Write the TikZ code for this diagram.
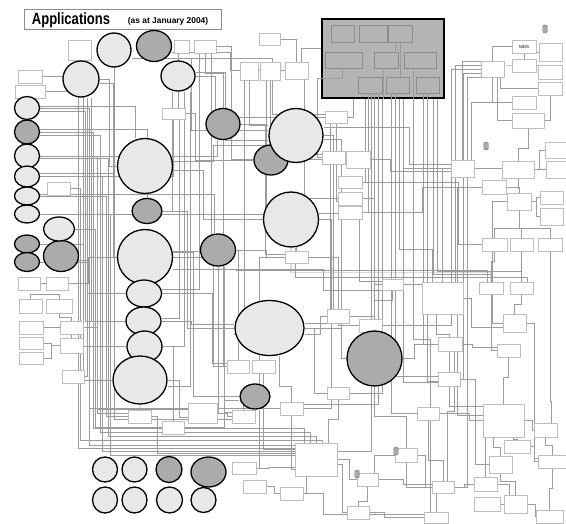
\documentclass[tikz,border=0pt]{standalone}
\usepackage{fontspec}
\setmainfont{Liberation Sans}
\usetikzlibrary{shapes.geometric,backgrounds}
\definecolor{applite}{HTML}{E8E8E8}
\definecolor{appdark}{HTML}{ABABAB}
\definecolor{coregray}{HTML}{B4B4B4}
\definecolor{boxline}{HTML}{BEBEBE}
\definecolor{wiregray}{HTML}{9C9C9C}

\begin{document}
\begin{tikzpicture}[x=1pt,y=-1pt,
  lite/.style={ellipse,draw=black,line width=1.3pt,fill=applite,inner sep=0pt},
  dark/.style={lite,fill=appdark},
  sys/.style={rectangle,draw=boxline,line width=0.6pt,fill=white,inner sep=0pt},
  cell/.style={rectangle,draw=black!45,line width=0.5pt,fill=coregray,inner sep=0pt},
  pill/.style={rectangle,rounded corners=1.5pt,draw=black!55,fill=appdark,
               minimum width=4.5pt,minimum height=8pt,inner sep=0pt},
  wire/.style={draw=wiregray,line width=0.45pt},
  haze/.style={draw=black!15,line width=1.6pt}
]
\useasboundingbox (0,0) rectangle (566,524);

% title
\node[draw=black!45,line width=0.6pt,minimum width=197pt,minimum height=20pt,inner sep=0pt] (ttl) at (122.5,19) {};
\node[anchor=base west,font=\fontsize{16.3}{16}\selectfont\bfseries,inner sep=0pt] (ttlmain) at ([xshift=8pt,yshift=-6pt]ttl.west) {\scalebox{0.8}[1]{Applications}};
\node[anchor=base west,font=\fontsize{8.4}{9}\selectfont\bfseries,inner sep=0pt] (ttlsub) at ([xshift=104pt,yshift=-4.5pt]ttl.west) {(as at January 2004)};

% systems (boxes)
\foreach \n/\x/\y/\w/\h in {
  b1/79.5/50/23/20, b2/181.5/46.5/15/13, b3/205/46.5/22/13, b4/269.5/39/21/12,
  b5/249/71/18/18, b6/270/71/20/18, b7/30/76.5/24/13, b8/30/91.5/30/13,
  b9/296.5/70.5/23/17, b10/550.5/52/23/18, b12/524/65.5/24/13, b13/550/72/24/14,
  b14/492.5/69/23/16, b15/550/88.5/24/13, b16/524/102.5/24/13, b17/528/120.5/32/15,
  b18/555.5/150/21/16, b19/556/169.5/20/17, b20/462.5/168.5/23/17, b21/518/169.5/32/17,
  b22/494/187/24/14, b23/519/201.5/24/17, b24/551.5/197.5/23/13, b25/551.5/216.5/23/17,
  b26/494.5/244.5/25/13, b27/521.5/244.5/23/13, b28/550/244.5/24/13, b29/336/117/22/12,
  b30/333.5/157.5/23/13, b31/358/159.5/24/17, b32/350/182/24/12, b33/350/198.5/24/13,
  b34/350/212.5/24/13, b35/296.5/257/23/12, b36/392.5/284.5/21/11, b37/442.5/298/41/32,
  b38/491/288/24/12, b39/521.5/288/23/12, b40/338/316/22/14, b41/370.5/325.5/23/13,
  b42/450/344/24/14, b43/514.5/323/23/18, b44/508.5/350.5/23/13, b45/449/379/22/14,
  b46/338/393/22/12, b47/291.5/408.5/23/13, b48/428/413.5/22/13, b49/503.5/420.5/41/33,
  b50/545.5/430/23/14, b51/517/446.5/26/13, b52/552/461.5/28/13, b53/500.5/464.5/23/17,
  b54/316/459.5/42/33, b55/406/455/22/14, b56/367.5/479.5/21/13, b57/291.5/493.5/23/13,
  b58/443/487/22/12, b59/485.5/484/23/14, b60/487/504/26/14, b61/515.5/504/23/18,
  b62/358/512.5/22/13, b63/436/517.5/24/11, b64/549.5/516.5/27/13, b65/29/283.5/22/13,
  b66/57/283.5/22/13, b67/30.5/306/23/14, b68/59/306/26/14, b69/31/327.5/24/13,
  b70/71.5/327.5/23/13, b71/31/343/24/12, b72/71.5/345.5/23/15, b73/31/358/24/12,
  b74/73/376.5/22/13, b75/139.5/416.5/23/13, b76/173/427.5/22/13, b77/202.5/413/29/20,
  b78/238/366.5/22/13, b79/263.5/366.5/23/13, b80/243.5/416.5/23/13, b81/244/468/24/12,
  b82/254.5/486.5/23/13, b83/173.5/113.5/23/11, b84/58.5/188.5/23/13}
  \node[sys,minimum width=\w pt,minimum height=\h pt] (\n) at (\x,\y) {};
\node[sys,minimum width=24pt,minimum height=13pt,font=\fontsize{4.5}{5}\selectfont] (b11) at (524,46.5) {MDS};

% applications (circles)
\foreach \n/\x/\y/\w/\h in {
  c2/154/46/35/31, c6/27/132/25/24, c12/27/244/25/18, c13/27/262/25/19,
  c14/61/256/35/31, c16/147/211/30/25, c18/223/124/34/31, c19/218/250/35/32,
  c20/271/160/34/30, c24/374.5/358.5/55/55, c25/255/396.5/30/25,
  c32/169/469.5/26/26, c33/208.5/472/35/30}
  \node[dark,minimum width=\w pt,minimum height=\h pt] (\n) at (\x,\y) {};
\foreach \n/\x/\y/\w/\h in {
  c1/114/50/34/34, c3/81/79/36/36, c4/178/76/34/30, c5/27/108/25/23,
  c7/27/156/25/24, c8/27/176.5/25/21, c9/27/196/25/18, c10/27/214/25/18,
  c11/59/229/31/24, c15/145/166/55/55, c17/145/257/55/55, c21/296/135.5/54/54,
  c22/291/219.5/55/55, c23/269.5/328/69/55, c26/144/293.5/35/27, c27/143.5/321/35/28,
  c28/144.5/346.5/35/31, c29/140/380/54/48, c30/105/469.5/25/25, c31/134.5/469.5/25/25,
  c34/105/500/25/26, c35/134.5/500/25/26, c36/169.5/500/26/26, c37/203.5/500/25/25}
  \node[lite,minimum width=\w pt,minimum height=\h pt] (\n) at (\x,\y) {};

% core block
\node[rectangle,draw=black,line width=1.8pt,fill=coregray,minimum width=122pt,minimum height=79pt,inner sep=0pt] (core) at (383,58.5) {};
\foreach \n/\x/\y/\w/\h in {
  k1/342.5/33.5/23/17, k2/373/33.5/28/17, k3/400/33.5/24/17,
  k4/343.5/60/37/16, k5/386/60/24/16, k6/420/60/32/16,
  k7/370/85/24/16, k8/397.5/85/23/16, k9/427.5/85/23/16}
  \node[cell,minimum width=\w pt,minimum height=\h pt] (\n) at (\x,\y) {};
\draw[wire] ([xshift=-5pt]k3.south) -- ([xshift=9pt]k5.north);
\draw[wire] (k3.south) -- ([xshift=2.5pt]k8.north);
\draw[wire] ([xshift=-3pt]k5.south) -- (core.south);
\draw[wire] ([xshift=-7pt]k6.south) -- ([xshift=30pt]core.south);
\draw[wire] ([xshift=-1pt]k4.south) |- ([yshift=-19.5pt]core.west);
\draw[wire] ([xshift=-2pt]k7.south) -- ([xshift=-15pt]core.south);
\draw[wire] ([xshift=1pt]k7.south) -- ([xshift=-12pt]core.south);
\draw[wire] ([xshift=4pt]k7.south) -- ([xshift=-9pt]core.south);
\draw[wire] ([xshift=8pt]k7.south) -- ([xshift=-5pt]core.south);
\draw[wire] ([xshift=-6.5pt]k8.south) -- ([xshift=8pt]core.south);
\draw[wire] ([xshift=-2.5pt]k8.south) -- ([xshift=12pt]core.south);
\draw[wire] ([xshift=-4.5pt]k9.south) -- ([xshift=40pt]core.south);
\draw[wire] ([xshift=-0.5pt]k9.south) -- ([xshift=44pt]core.south);

% small markers
\foreach \n/\x/\y in {p1/545/29, p2/486/146, p3/396/451, p4/357/474}
  \node[pill] (\n) at (\x,\y) {};

\begin{scope}[on background layer]
\fill[white] (0,0) rectangle (566,524);
\draw[haze] (c22.south) -- ++(0,25) -| (b38.north);
% horizontal out, vertical, horizontal in
\foreach \src/\off/\len/\dst/\sft in {
  c5.east/0/49/b54.west/14, c7.east/0/57/b77.west/4,
  c8.east/0/62/b54.west/8, c9.east/0/66/b75.west/0, c10.east/0/70/b54.west/4,
  c11.east/0/20/b76.west/0, c14.east/-4/10/b47.west/0, c12.east/0/43/c29.west/0,
  c13.east/0/47/b74.east/0, c5.east/-3/45/c27.west/0, c8.east/3/74/b80.west/-3,
  b7.east/0/36/b54.west/11, b8.east/0/38/c28.west/0, c3.east/0/10/c15.west/0,
  c3.east/-4/14/c17.west/0, c15.east/5/40/c21.west/-10, c15.east/-4/30/c22.west/0,
  c16.east/0/25/c23.west/0, c17.east/0/40/b78.west/0, c17.east/5/20/c25.west/0,
  c19.east/0/30/b35.west/0, c18.east/0/25/b35.west/3, c1.east/-8/60/c21.west/5,
  c2.east/-6/58/b9.west/0, c2.east/-12/100/b29.west/3, c4.east/0/20/b29.west/0,
  c4.east/4/30/c21.west/-5, b83.east/0/10/c20.west/0, b3.east/0/15/b31.west/0,
  c21.east/0/10/b40.west/0, c22.east/0/12/b47.east/0, c21.east/-4/18/c23.east/0,
  core.west/-19.5/-4/b30.west/0, core.west/10/-20/b9.east/0,
  b14.west/4/-25/b36.east/0, b14.west/0/-29/b41.east/0, b14.west/-4/-17/b45.east/0,
  b14.west/-8/-13/b58.east/0, b20.west/0/-47/b45.west/-3, b22.west/0/-24/b49.west/5,
  b23.west/0/-14/b43.west/0, b37.east/0/8/b43.west/-4, b43.east/0/8/b52.west/0,
  b49.east/0/8/b50.west/0, b51.east/0/4/b52.west/3, b58.east/0/10/b59.west/0,
  b55.west/0/-20/b56.east/0, b54.east/0/12/b56.west/0, b54.east/-5/5/b62.west/0,
  b81.east/0/12/b54.west/-8, b82.east/0/8/b57.west/0, b77.east/0/10/b80.west/0,
  b76.east/0/40/c25.west/-4, b75.east/0/6/b54.west/6, c23.east/0/10/b46.west/0,
  c23.east/-6/16/b40.west/0, c24.east/0/12/b42.west/0, c24.west/0/-5/b40.east/0,
  c26.east/0/50/b78.west/3, c27.east/0/30/c23.west/4, c29.east/0/12/b77.west/-4,
  b70.east/0/14/b75.west/3, b66.east/0/20/c17.west/0, c17.east/-12/150/b36.west/-6,
  b21.east/0/5/b18.west/0, b23.east/0/5/b24.west/0, b23.east/0/5/b25.west/0,
  b73.east/0/8/b72.west/0, b71.east/0/8/b72.west/0, b42.east/0/10/b44.west/3,
  b45.east/0/15/b53.west/0, b61.east/0/8/b64.west/0, b55.east/0/8/b58.west/0,
  b48.east/0/30/b49.west/0, b62.east/0/15/b63.west/0, b56.east/0/25/b58.west/3,
  b57.east/0/20/b63.west/3, b31.east/0/20/b20.west/-3, b33.east/0/12/b36.west/0,
  b34.east/0/60/b22.west/0, b32.east/0/96/b26.west/0, c22.east/6/40/b36.west/3,
  b35.east/0/30/b41.west/0, c21.east/8/86/b20.west/4, b16.west/0/-40/b20.east/0}
  \draw[wire] ([yshift=\off pt]\src) -- ++(\len,0) |- ([yshift=\sft pt]\dst);
% long runs along the lower bus
\foreach \src/\off/\len/\drop/\dst/\sft in {
  c6.east/0/53/296/b54.north/-12, c6.east/-3/60/297/b54.north/-6,
  c7.east/-2/68/278/b54.north/0, b84.east/0/10/251.5/b54.north/6}
  \draw[wire] ([yshift=\off pt]\src) -- ++(\len,0) -- ++(0,\drop) -| ([xshift=\sft pt]\dst);
% horizontal then vertical
\foreach \src/\off/\dst/\sft in {
  c5.east/2/c15.north/-10, c6.east/3/c16.north/0, c7.east/0/c18.south/-6,
  c8.east/0/b83.south/0, c9.east/2/c19.north/-4, c10.east/0/b35.north/0,
  b4.east/0/b9.north/0, b20.west/0/b37.north/0, b59.east/0/b61.north/-6,
  b11.west/0/b14.north/0, b10.west/0/b12.north/0, b12.east/0/b13.north/0,
  b15.west/0/b14.south/8, c28.east/0/b76.north/0, c19.east/-20/b38.north/-4,
  b14.west/8/b20.north/0, b22.east/0/b23.north/0}
  \draw[wire] ([yshift=\off pt]\src) -| ([xshift=\sft pt]\dst);
% vertical then horizontal
\foreach \src/\off/\dst/\sft in {
  core.south/-30/b29.east/0, core.south/-18/b32.east/0, core.south/-15/b34.east/0,
  core.south/-12/b54.east/8, core.south/-9/b40.east/0, core.south/-5/b47.east/4,
  core.south/-1/b46.east/0, core.south/8/b48.west/0, core.south/12/b45.west/3,
  core.south/20/b20.west/0, core.south/40/b42.west/0, core.south/44/b45.west/-2,
  b14.south/0/b16.west/0, b14.south/5/b17.west/0, b15.south/0/b17.east/0,
  b38.south/0/b44.west/0, b54.south/-10/b57.east/0, c25.south/4/b81.east/0,
  b5.south/0/c21.west/10, b6.south/0/b30.west/3, b2.south/-3/b83.east/0,
  b78.north/0/c19.east/0, b79.north/-4/b35.west/0, c19.south/0/b77.east/0,
  c19.south/6/b80.west/4, c3.south/6/c26.west/0, c3.south/10/c27.west/0,
  c1.south/0/c26.east/0, c4.south/6/c28.east/0, c4.south/12/c29.east/-6,
  c4.south/-6/c16.east/0, b83.south/6/c27.east/3, b3.south/-6/c26.east/4,
  b3.south/6/c17.east/6, c18.south/0/b78.west/0, b5.south/-5/c23.west/-6,
  b6.south/-4/c22.west/6, b9.south/8/b33.west/0, b29.south/0/b33.west/-3,
  b29.south/-6/c23.east/5, b47.south/0/b54.west/-10, b79.south/0/b54.west/10}
  \draw[wire] ([xshift=\off pt]\src) |- ([yshift=\sft pt]\dst);
% vertical out, horizontal, vertical in
\foreach \src/\off/\len/\dst/\sft in {
  core.south/16/150/b37.north/-10, core.south/50/175/b38.north/0,
  core.south/54/172/b39.north/0, core.south/30/240/b63.north/-6,
  b26.south/0/10/b38.north/0, b27.south/0/12/b39.north/0, b28.south/0/150/b50.north/6,
  b39.south/0/10/b43.north/0, b44.south/0/20/b49.north/0, b49.south/-10/10/b53.north/0,
  b49.south/10/2/b51.north/0, b53.south/0/8/b61.north/0, b45.south/0/20/b59.north/0,
  b48.south/0/40/b58.north/0, b55.south/0/25/b63.north/0, b56.south/0/15/b62.north/0,
  b47.north/0/-15/c23.south/10, b80.north/0/-20/c23.south/-10, c24.south/0/30/b55.north/0,
  b3.south/0/20/c18.north/0, b17.south/0/20/b21.north/0, b21.south/0/10/b23.north/0,
  b23.south/0/18/b26.north/0, b23.south/0/18/b27.north/0, b23.south/0/18/b28.north/0,
  c22.south/4/30/b39.north/6, b68.south/0/4/b70.north/0, b67.north/0/-4/b68.north/0,
  b37.south/-6/20/b45.north/0, b50.south/0/8/b52.north/0, b52.south/0/20/b64.north/0,
  b36.south/0/10/b41.north/4, b46.south/0/20/b54.north/12, b42.south/4/60/b58.north/4}
  \draw[wire] ([xshift=\off pt]\src) -- ++(0,\len) -| ([xshift=\sft pt]\dst);
\draw[wire] (b20.east) -- (b20.east -| b21.west);
\draw[wire] (b21.east) -- (b19.west);
\draw[wire] ([yshift=3pt]b14.east) -- (b12.west);
\draw[wire] (b60.east) -- (b61.west);
\draw[wire] (b65.east) -- (b66.west);
\draw[wire] (b69.east) -- (b70.west);
\draw[wire] (b72.north) -- (b70.south);
\draw[wire] (c29.south) -- (b75.north);
\end{scope}
\end{tikzpicture}
\end{document}
